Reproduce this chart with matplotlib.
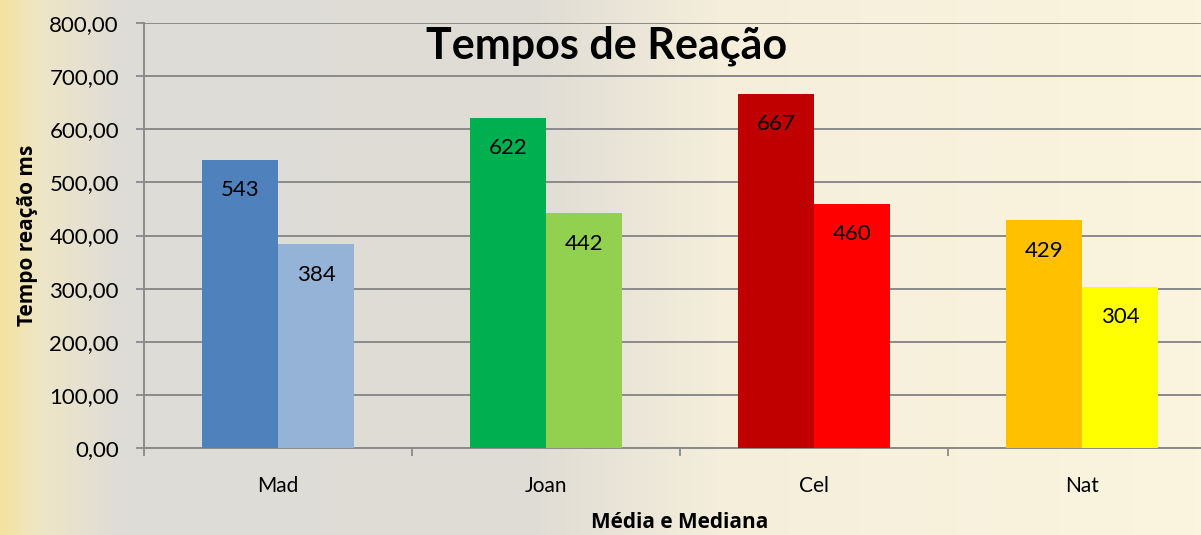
import matplotlib
matplotlib.use("Agg")
import matplotlib.pyplot as plt
from matplotlib.colors import LinearSegmentedColormap
from matplotlib.ticker import FuncFormatter
import numpy as np

plt.rcParams['font.family'] = ['Lato', 'DejaVu Sans']

names = ["Mad", "Joan", "Cel", "Nat"]
media = [543, 622, 667, 429]
mediana = [384, 442, 460, 304]
cor_media = ["#4f81bd", "#00b050", "#c00000", "#ffc000"]
cor_mediana = ["#95b3d7", "#92d050", "#ff0000", "#ffff00"]

fig = plt.figure(figsize=(12.01, 5.35), dpi=100)

# background (rough stand-in for the photo behind the slide)
bg = fig.add_axes([0, 0, 1, 1], zorder=-10)
bg_cmap = LinearSegmentedColormap.from_list(
    "bg", [(0, "#f3e2a0"), (0.03, "#efe6c6"), (0.1, "#dedcd7"),
           (0.45, "#e0ddd5"), (0.6, "#f4eedb"), (1, "#fbf5df")])
bg.imshow(np.linspace(0, 1, 256)[None, :], aspect="auto", cmap=bg_cmap,
          extent=[0, 1, 0, 1])
bg.axis("off")

ax = fig.add_axes([0.1199, 0.1626, 0.8926, 0.7944])
ax.set_facecolor("none")

x = np.arange(len(names))
w = 0.284
b1 = ax.bar(x - w / 2, media, w, color=cor_media, zorder=3)
b2 = ax.bar(x + w / 2, mediana, w, color=cor_mediana, zorder=3)

for bars, vals in ((b1, media), (b2, mediana)):
    for r, v in zip(bars, vals):
        ax.annotate(str(v), (r.get_x() + r.get_width() / 2, v),
                    xytext=(0, -22), textcoords="offset points",
                    ha="center", va="center", fontsize=16, zorder=4)

ax.set_xlim(-0.5, len(names) - 0.5)
ax.set_ylim(0, 800)
ax.set_yticks(range(0, 801, 100))
ax.yaxis.set_major_formatter(FuncFormatter(lambda v, p: f"{v:.2f}".replace(".", ",")))
ax.grid(axis="y", color="#8a8a8a", lw=1.4, zorder=0)

ax.set_xticks(x)
ax.set_xticklabels(names)
ax.set_xticks(np.arange(-0.5, len(names), 1), minor=True)
ax.tick_params(axis="x", which="major", length=0, pad=20, labelsize=15)
ax.tick_params(axis="x", which="minor", length=6, width=1.3, color="#8a8a8a")
ax.tick_params(axis="y", length=6, width=1.3, color="#8a8a8a", labelsize=16, pad=12)

for s in ("top", "right"):
    ax.spines[s].set_visible(False)
for s in ("left", "bottom"):
    ax.spines[s].set_color("#8a8a8a")
    ax.spines[s].set_linewidth(1.4)

lab = dict(fontsize=15, fontweight="bold", family=["Open Sans", "DejaVu Sans"])
ax.set_ylabel("Tempo reação ms", labelpad=8, **lab)
ax.set_xlabel("Média e Mediana", labelpad=12, **lab)

fig.text(0.505, 0.915, "Tempos de Reação", ha="center", va="center",
         fontsize=31, fontweight="bold")

fig.savefig("out.png", dpi=100)
